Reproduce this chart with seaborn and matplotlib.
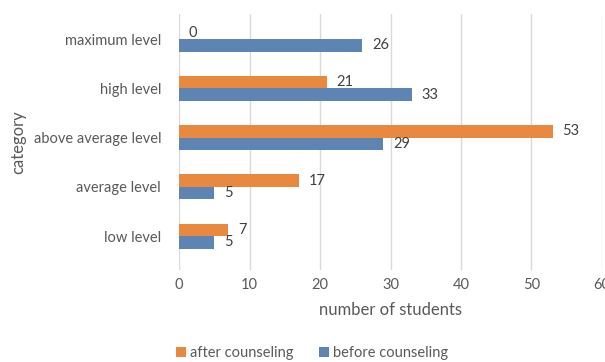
import matplotlib
matplotlib.use("Agg")
import matplotlib.pyplot as plt
import seaborn as sns
import pandas as pd

categories = ["maximum level", "high level", "above average level", "average level", "low level"]
after_counseling = [0, 21, 53, 17, 7]
before_counseling = [26, 33, 29, 5, 5]
series_names = ["after counseling", "before counseling"]
x_ticks = [0, 10, 20, 30, 40, 50, 60]

df = pd.DataFrame({
    "category": categories * 2,
    "students": after_counseling + before_counseling,
    "group": [series_names[0]] * len(categories) + [series_names[1]] * len(categories),
})

sns.set_theme(style="white")
plt.rcParams["font.family"] = ["Lato", "DejaVu Sans"]

text_color = "#595959"
palette = {"after counseling": "#E9893F", "before counseling": "#5D84B2"}

fig = plt.figure(figsize=(6.05, 3.62), dpi=100)
ax = fig.add_axes([0.296, 0.254, 0.699, 0.707])

sns.barplot(data=df, y="category", x="students", hue="group", order=categories,
            hue_order=series_names, palette=palette, orient="h", width=0.51,
            linewidth=0, saturation=1, ax=ax, legend=True)

for cont in ax.containers:
    ax.bar_label(cont, padding=7, fontsize=10.5, color="#404040")

ax.set_xlim(0, 60)
ax.set_xticks(x_ticks)
ax.set_ylim(4.69, -0.51)
ax.grid(axis="x", color="#D9D9D9", linewidth=1)
ax.grid(axis="y", visible=False)
ax.set_axisbelow(True)
for s in ax.spines.values():
    s.set_visible(False)
ax.tick_params(axis="both", length=0, labelsize=10.5, labelcolor=text_color)
ax.tick_params(axis="x", pad=6)
ax.tick_params(axis="y", pad=13)
ax.set_xlabel("number of students", fontsize=12, color=text_color, labelpad=7)
ax.set_ylabel("category", fontsize=12, color=text_color, labelpad=5)

handles, labels = ax.get_legend_handles_labels()
ax.get_legend().remove()
fig.legend(handles, labels, loc="lower center", bbox_to_anchor=(0.516, -0.03), ncol=2,
           frameon=False, fontsize=10.5, handlelength=0.7, handleheight=0.7,
           handletextpad=0.3, columnspacing=1.7, labelcolor=text_color)

fig.savefig("out.png", dpi=100)
